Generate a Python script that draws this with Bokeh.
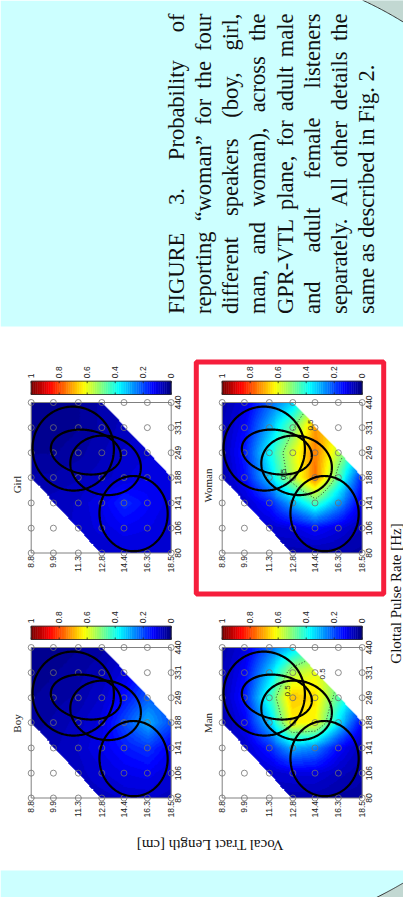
import numpy as np
from bokeh.plotting import figure
from bokeh.models import Range1d, LogScale, LinearScale, LinearColorMapper
from bokeh.core.properties import value
from bokeh.embed import file_html
from bokeh.resources import INLINE

# ---------------- data ----------------
GPR_TICKS = [80, 106, 141, 188, 249, 331, 440]            # Glottal pulse rate [Hz]
GPR_LABELS = ["80", "106", "141", "188", "249", "331", "440"]
VTL_TICKS = [8.8, 9.9, 11.3, 12.8, 14.4, 16.3, 18.5]      # Vocal tract length [cm]
VTL_LABELS = ["8.8", "9.9", "11.3", "12.8", "14.4", "16.3", "18.5"]
CBAR_TICKS = [1.0, 0.8, 0.6, 0.4, 0.2, 0.0]
CBAR_LABELS = ["1", "0.8", "0.6", "0.4", "0.2", "0"]

# probability of reporting "woman"; rows: GPR 440 (first) .. 80 (last); columns: VTL 8.8 .. 18.5
PROB_GIRL = [
    [0.02, 0.02, 0.03, 0.05, None, None, None],
    [0.02, 0.02, 0.03, 0.05, 0.07, None, None],
    [0.03, 0.03, 0.04, 0.06, 0.08, 0.09, None],
    [0.05, 0.05, 0.06, 0.07, 0.09, 0.11, 0.10],
    [None, 0.07, 0.08, 0.11, 0.17, 0.13, 0.10],
    [None, None, 0.08, 0.10, 0.12, 0.11, 0.09],
    [None, None, None, 0.08, 0.09, 0.09, 0.08],
]
PROB_BOY = [
    [0.02, 0.02, 0.03, 0.04, None, None, None],
    [0.02, 0.03, 0.04, 0.06, 0.10, None, None],
    [0.03, 0.04, 0.05, 0.08, 0.14, 0.22, None],
    [0.04, 0.05, 0.07, 0.10, 0.20, 0.30, 0.20],
    [None, 0.06, 0.08, 0.11, 0.15, 0.18, 0.12],
    [None, None, 0.07, 0.09, 0.11, 0.12, 0.09],
    [None, None, None, 0.07, 0.08, 0.08, 0.07],
]
PROB_MAN = [
    [0.05, 0.10, 0.22, 0.33, None, None, None],
    [0.06, 0.13, 0.32, 0.55, 0.60, None, None],
    [0.06, 0.16, 0.42, 0.68, 0.65, 0.45, None],
    [0.05, 0.12, 0.32, 0.63, 0.62, 0.35, 0.12],
    [None, 0.08, 0.16, 0.30, 0.26, 0.13, 0.06],
    [None, None, 0.08, 0.10, 0.10, 0.07, 0.05],
    [None, None, None, 0.05, 0.05, 0.04, 0.04],
]
PROB_WOMAN = [
    [0.05, 0.10, 0.22, 0.33, None, None, None],
    [0.06, 0.13, 0.30, 0.48, 0.72, None, None],
    [0.06, 0.16, 0.38, 0.58, 0.75, 0.55, None],
    [0.05, 0.14, 0.33, 0.55, 0.76, 0.45, 0.15],
    [None, 0.08, 0.15, 0.30, 0.45, 0.28, 0.10],
    [None, None, 0.08, 0.10, 0.14, 0.10, 0.06],
    [None, None, None, 0.05, 0.05, 0.05, 0.04],
]

# speaker-distribution ellipses (centre, semi-axes in natural-log units, tilt in degrees)
ELL_VTL = [11.0, 11.76, 13.06, 15.15]
ELL_GPR = [261.0, 251.0, 216.0, 125.0]
ELL_VTL_SD = [0.216, 0.187, 0.188, 0.181]
ELL_GPR_SD = [0.475, 0.250, 0.335, 0.426]
ELL_TILT = [-8.0, -8.0, -8.0, 8.0]

CONTOUR_LEVEL = 0.5
LABEL_MAN_VTL = [12.43, 15.0]
LABEL_MAN_GPR = [269.0, 326.0]
LABEL_WOMAN_VTL = [14.05, 12.2]
LABEL_WOMAN_GPR = [341.0, 195.0]

CAPTION_LINES = [
    "FIGURE 3. Probability of",
    "reporting \u201cwoman\u201d for the four",
    "different speakers (boy, girl,",
    "man, and woman), across the",
    "GPR-VTL plane, for adult male",
    "and adult female listeners",
    "separately. All other details the",
    "same as described in Fig. 2.",
]

PROB = {"Girl": PROB_GIRL, "Woman": PROB_WOMAN, "Boy": PROB_BOY, "Man": PROB_MAN}

# ---------------- layout (page pixels of the 403x897 picture) ----------------
IMG_H = 897
def Y(y):
    return IMG_H - y

FX0, FX1 = 0, 403
FY0, FY1 = 0, 897

COL_X = {"L": (30.7, 170.7), "R": (221.7, 361.7)}
ROW_Y = {"T": (402.0, 552.5), "B": (647.0, 797.5)}
PANEL_POS = {"Girl": ("L", "T"), "Woman": ("R", "T"), "Boy": ("L", "B"), "Man": ("R", "B")}
TITLE_Y = {"Girl": 484.0, "Woman": 485.0, "Boy": 723.0, "Man": 722.5}


def jet(n):
    out = []
    for t in np.linspace(0, 1, n):
        r = np.clip(1.5 - abs(4 * t - 3), 0, 1)
        g = np.clip(1.5 - abs(4 * t - 2), 0, 1)
        b = np.clip(1.5 - abs(4 * t - 1), 0, 1)
        out.append("#%02x%02x%02x" % (int(round(r * 255)), int(round(g * 255)), int(round(b * 255))))
    return out

JET = jet(64)


def log_range(v0, v1, s0, s1, f0, f1):
    l0, l1 = np.log(v0), np.log(v1)
    k = (l1 - l0) / (s1 - s0)
    return Range1d(start=float(np.exp(l0 + (f0 - s0) * k)), end=float(np.exp(l0 + (f1 - s0) * k)))


def lin_range(v0, v1, s0, s1, f0, f1):
    k = (v1 - v0) / (s1 - s0)
    return Range1d(start=float(v0 + (f0 - s0) * k), end=float(v0 + (f1 - s0) * k))


p = figure(width=FX1 - FX0, height=FY1 - FY0, x_range=Range1d(FX0, FX1), y_range=Range1d(FY0, FY1),
           output_backend="svg", toolbar_location=None, min_border=0,
           x_axis_location=None, y_axis_location=None)
p.grid.visible = False
p.outline_line_color = None
p.background_fill_color = "white"
p.border_fill_color = "white"

xr, xs = {}, {}
for c, (a, b) in COL_X.items():
    xr["vtl" + c] = log_range(VTL_TICKS[0], VTL_TICKS[-1], a, b, FX0, FX1)
    xs["vtl" + c] = LogScale()
    xr["cb" + c] = lin_range(1.0, 0.0, a, b, FX0, FX1)
    xs["cb" + c] = LinearScale()
yr, ys = {}, {}
for r, (t, b) in ROW_Y.items():
    yr["gpr" + r] = log_range(GPR_TICKS[0], GPR_TICKS[-1], Y(b), Y(t), FY0, FY1)
    ys["gpr" + r] = LogScale()
p.extra_x_ranges = xr
p.extra_x_scales = xs
p.extra_y_ranges = yr
p.extra_y_scales = ys

# ---------------- background ----------------
CYAN = "#ccffff"
p.quad(left=[FX0], right=[FX1], bottom=[Y(326)], top=[Y(0)], fill_color=CYAN, line_color=None)
p.quad(left=[FX0], right=[FX1], bottom=[Y(897)], top=[Y(870)], fill_color=CYAN, line_color=None)
# decorative round shapes in the corners
ang = np.linspace(np.arcsin((362 - 200) / 386.0), np.arcsin((410 - 200) / 386.0), 40)
ax = 200 + 386 * np.sin(ang)
ay = 350 - 386 * np.cos(ang)
p.patch(list(ax) + [410, 410], [Y(v) for v in ay] + [Y(-5), Y(-5)], fill_color="#c2d8d2", line_color=None)
p.line(list(ax), [Y(v) for v in ay], line_color="#333333", line_width=1)
ang = np.linspace(np.arcsin((370 - 200) / 398.0), np.arcsin((410 - 200) / 398.0), 40)
bx = 200 + 398 * np.sin(ang)
by = 540 + 398 * np.cos(ang)
p.patch(list(bx) + [410, 410], [Y(v) for v in by] + [Y(905), Y(905)], fill_color="#c2d8d2", line_color=None)
p.line(list(bx), [Y(v) for v in by], line_color="#333333", line_width=1)

# ---------------- caption (justified, rotated) ----------------
TIMES_W = {" ": 250, "(": 333, ")": 333, ",": 250, "-": 333, ".": 250, "2": 500, "3": 500,
           "A": 722, "E": 611, "F": 556, "G": 722, "I": 333, "L": 611, "P": 556, "R": 667,
           "T": 611, "U": 722, "V": 722, "a": 444, "b": 500, "c": 444, "d": 500, "e": 444,
           "f": 333, "g": 500, "h": 500, "i": 278, "j": 278, "k": 500, "l": 278, "m": 778,
           "n": 500, "o": 500, "p": 500, "q": 500, "r": 333, "s": 389, "t": 278, "u": 500,
           "v": 500, "w": 722, "x": 500, "y": 500, "z": 444, "\u201c": 444, "\u201d": 444}
CAP_SIZE = 22.5
def tw(s):
    return sum(TIMES_W.get(ch, 500) for ch in s) / 1000.0 * CAP_SIZE

cap_x, cap_y, cap_t = [], [], []
start, length = Y(313.5), 300.5
for k, line in enumerate(CAPTION_LINES):
    words = line.split(" ")
    widths = [tw(w) for w in words]
    if k < len(CAPTION_LINES) - 1:
        gap = (length - sum(widths)) / (len(words) - 1)
    else:
        gap = tw(" ")
    pos = start
    for w, wd in zip(words, widths):
        cap_x.append(175.5 + 27.26 * k)
        cap_y.append(pos)
        cap_t.append(w)
        pos += wd + gap
p.text(x=cap_x, y=cap_y, text=cap_t, angle=np.pi / 2, text_align="left", text_baseline="alphabetic",
       text_font=value("Liberation Serif"), text_font_size="%.1fpx" % CAP_SIZE, text_color="#111111")

# ---------------- panels ----------------
mapper = LinearColorMapper(palette=JET, low=0, high=1, nan_color=(0, 0, 0, 0))
N = 144
u = (np.arange(N) + 0.5) / N * 6.0
U, V = np.meshgrid(u, u)
LV = np.log(VTL_TICKS[-1] / VTL_TICKS[0]) / 6.0
LG = np.log(GPR_TICKS[-1] / GPR_TICKS[0]) / 6.0


def field(rows):
    g = np.array([[np.nan if v is None else v for v in row] for row in rows[::-1]], dtype=float)
    f = g.copy()
    while np.isnan(f).any():
        nf = f.copy()
        for j in range(7):
            for i in range(7):
                if np.isnan(f[j, i]):
                    nb = [f[jj, ii] for jj, ii in ((j - 1, i), (j + 1, i), (j, i - 1), (j, i + 1))
                          if 0 <= jj < 7 and 0 <= ii < 7 and not np.isnan(f[jj, ii])]
                    if nb:
                        nf[j, i] = float(np.mean(nb))
        f = nf
    i0 = np.clip(np.floor(U).astype(int), 0, 5)
    j0 = np.clip(np.floor(V).astype(int), 0, 5)
    fu, fv = U - i0, V - j0
    z = (f[j0, i0] * (1 - fu) * (1 - fv) + f[j0, i0 + 1] * fu * (1 - fv)
         + f[j0 + 1, i0] * (1 - fu) * fv + f[j0 + 1, i0 + 1] * fu * fv)
    s = U + V
    z[(s < 3) | (s > 9)] = np.nan
    return z


SANS = value("Liberation Sans")
SERIF = value("Liberation Serif")
gx, gy = np.meshgrid(VTL_TICKS, GPR_TICKS)

for name in ["Girl", "Woman", "Boy", "Man"]:
    col, row = PANEL_POS[name]
    xn, yn, cn = "vtl" + col, "gpr" + row, "cb" + col
    x0, x1 = COL_X[col]
    y0, y1 = ROW_Y[row]
    z = field(PROB[name])
    p.image(image=[z], x=VTL_TICKS[0], y=GPR_TICKS[0], dw=VTL_TICKS[-1] - VTL_TICKS[0],
            dh=GPR_TICKS[-1] - GPR_TICKS[0], color_mapper=mapper, x_range_name=xn, y_range_name=yn)
    p.quad(left=[VTL_TICKS[0]], right=[VTL_TICKS[-1]], bottom=[GPR_TICKS[0]], top=[GPR_TICKS[-1]],
           fill_color=None, line_color="#808080", line_width=1, x_range_name=xn, y_range_name=yn)
    p.scatter(gx.ravel(), gy.ravel(), marker="circle", size=6, fill_color=None, line_color="#707070",
              line_width=0.8, x_range_name=xn, y_range_name=yn)
    t = np.linspace(0, 2 * np.pi, 240)
    for cv, cg, sv, sg, th in zip(ELL_VTL, ELL_GPR, ELL_VTL_SD, ELL_GPR_SD, ELL_TILT):
        a, b = sv / LV, sg / LG
        th = np.deg2rad(th)
        du, dv = a * np.cos(t), b * np.sin(t)
        ru = du * np.cos(th) - dv * np.sin(th)
        rv = du * np.sin(th) + dv * np.cos(th)
        p.line(cv * np.exp(ru * LV), cg * np.exp(rv * LG), line_color="black", line_width=2.2,
               x_range_name=xn, y_range_name=yn)
    if name in ("Man", "Woman"):
        try:
            from bokeh.plotting.contour import contour_data
            XV = VTL_TICKS[0] * np.exp(U * LV)
            YG = GPR_TICKS[0] * np.exp(V * LG)
            cd = contour_data(XV, YG, np.ma.masked_invalid(z), [CONTOUR_LEVEL], want_fill=False)
            p.multi_line(xs=list(cd.line_data.xs), ys=list(cd.line_data.ys), line_color="#333333",
                         line_width=1, line_dash="1 2", x_range_name=xn, y_range_name=yn)
        except Exception:
            pass
        lv = LABEL_MAN_VTL if name == "Man" else LABEL_WOMAN_VTL
        lg = LABEL_MAN_GPR if name == "Man" else LABEL_WOMAN_GPR
        p.text(x=lv, y=lg, text=["0.5"] * len(lv), angle=np.pi / 2, text_align="center",
               text_baseline="middle", text_font=SANS, text_font_size="8px", text_color="#222222",
               x_range_name=xn, y_range_name=yn)
    # tick labels
    p.text(x=VTL_TICKS, y=[Y(y1 + 3)] * len(VTL_TICKS), text=VTL_LABELS, angle=np.pi / 2,
           text_align="right", text_baseline="middle", text_font=SANS, text_font_size="8.5px",
           text_color="#222222", x_range_name=xn)
    p.text(x=[x1 + 4] * len(GPR_TICKS), y=GPR_TICKS, text=GPR_LABELS, angle=np.pi / 2,
           text_align="center", text_baseline="top", text_font=SANS, text_font_size="8.5px",
           text_color="#222222", y_range_name=yn)
    # colour bar
    edges = np.linspace(0, 1, len(JET) + 1)
    cb_bot, cb_top = Y(y0 - 8), Y(y0 - 21.3)
    p.quad(left=edges[:-1], right=edges[1:], bottom=cb_bot, top=cb_top, fill_color=JET,
           line_color=JET, line_width=0.5, x_range_name=cn)
    p.quad(left=[0], right=[1], bottom=[cb_bot], top=[cb_top], fill_color=None, line_color="#222222",
           line_width=0.8, x_range_name=cn)
    p.segment(x0=CBAR_TICKS, x1=CBAR_TICKS, y0=[cb_bot] * 6, y1=[cb_bot + 2] * 6,
              line_color="#222222", line_width=0.8, x_range_name=cn)
    p.segment(x0=CBAR_TICKS, x1=CBAR_TICKS, y0=[cb_top] * 6, y1=[cb_top - 2] * 6,
              line_color="#222222", line_width=0.8, x_range_name=cn)
    p.text(x=CBAR_TICKS, y=[cb_top + 3] * 6, text=CBAR_LABELS, angle=np.pi / 2, text_align="left",
           text_baseline="middle", text_font=SANS, text_font_size="8.5px", text_color="#222222",
           x_range_name=cn)
    # title
    p.text(x=[x0 - 14], y=[Y(TITLE_Y[name])], text=[name], angle=np.pi / 2, text_align="center",
           text_baseline="middle", text_font=SERIF, text_font_size="11px", text_color="#222222")

# axis titles
p.text(x=[209.5], y=[Y(844)], text=["Vocal Tract Length [cm]"], angle=np.pi, text_align="center",
       text_baseline="middle", text_font=SERIF, text_font_size="15px", text_color="#111111")
p.text(x=[395], y=[Y(593)], text=["Glottal Pulse Rate [Hz]"], angle=np.pi / 2, text_align="center",
       text_baseline="middle", text_font=SERIF, text_font_size="15px", text_color="#111111")

# highlight frame around the Woman panel
p.quad(left=[195.8], right=[383.2], bottom=[Y(593.5)], top=[Y(361.5)], fill_color=None,
       line_color="#f61e3c", line_width=5)

open("out.html", "w", encoding="utf-8").write(file_html(p, INLINE))
